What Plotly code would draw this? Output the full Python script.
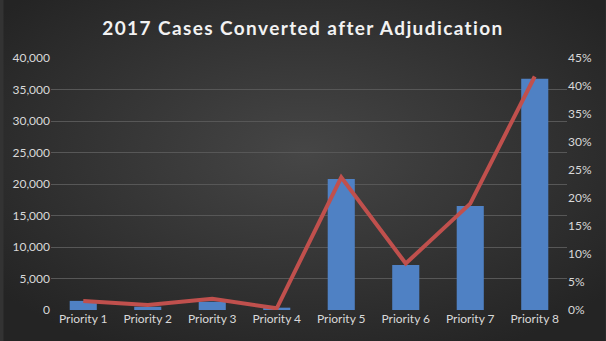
import base64
import plotly.graph_objects as go

categories = ["Priority 1", "Priority 2", "Priority 3", "Priority 4",
              "Priority 5", "Priority 6", "Priority 7", "Priority 8"]
cases = [1450, 520, 1320, 370, 20800, 7150, 16500, 36700]
percent = [0.016, 0.009, 0.020, 0.003, 0.237, 0.083, 0.190, 0.417]

svg = """<svg xmlns='http://www.w3.org/2000/svg' width='606' height='341'>
<defs><radialGradient id='g' cx='0.5' cy='0.45' r='0.65'>
<stop offset='0' stop-color='#464646'/><stop offset='1' stop-color='#242424'/>
</radialGradient></defs><rect width='606' height='341' fill='url(#g)'/></svg>"""
bg = "data:image/svg+xml;base64," + base64.b64encode(svg.encode()).decode()

fig = go.Figure()
fig.add_trace(go.Bar(x=categories, y=cases, marker=dict(color="#4F81C4", line=dict(width=0)),
                     yaxis="y", name="Cases"))
fig.add_trace(go.Scatter(x=categories, y=percent, mode="lines",
                         line=dict(color="#C0504D", width=4), yaxis="y2", name="Percent"))

tickfont = dict(family="Lato, Carlito, sans-serif", size=12, color="#D9D9D9")
fig.update_layout(
    width=606, height=341,
    margin=dict(l=48, r=39, t=58, b=31),
    paper_bgcolor="#333333", plot_bgcolor="rgba(0,0,0,0)",
    showlegend=False, bargap=0.58,
    title=dict(text="<span style='letter-spacing:1.4px'><b>2017 Cases Converted after Adjudication</b></span>",
               x=0.5, xanchor="center", y=0.917, yanchor="middle",
               font=dict(family="Lato, sans-serif", size=19, color="#F2F2F2")),
    xaxis=dict(tickfont=tickfont, showgrid=False, zeroline=False, showline=False, ticks=""),
    yaxis=dict(range=[0, 40000], dtick=5000, tickformat=",", tickfont=tickfont,
               gridcolor="#575757", gridwidth=1, zeroline=False, showline=False, ticks=""),
    yaxis2=dict(range=[0, 0.45], dtick=0.05, tickformat=".0%", tickfont=tickfont,
                overlaying="y", side="right", showgrid=False, zeroline=False,
                showline=False, ticks=""),
    images=[dict(source=bg, xref="paper", yref="paper", x=-48/519, y=1+58/252,
                 sizex=606/519, sizey=341/252, sizing="stretch", layer="below",
                 xanchor="left", yanchor="top")],
)
fig.write_html("out.html")
